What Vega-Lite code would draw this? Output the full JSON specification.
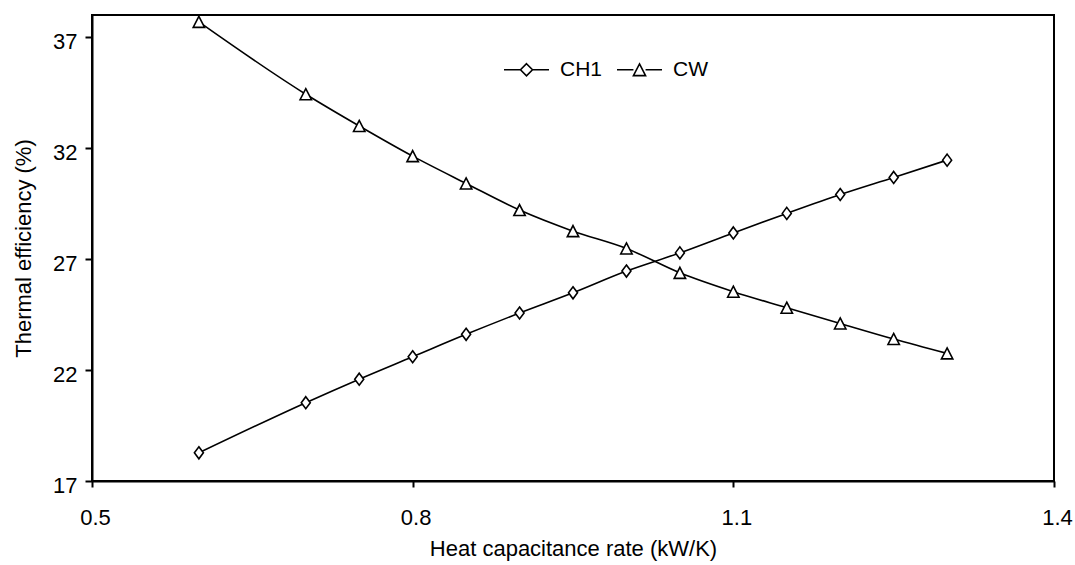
{
  "$schema": "https://vega.github.io/schema/vega-lite/v6.json",
  "autosize": "none",
  "width": 962,
  "height": 466,
  "padding": {"left": 92, "top": 15, "right": 21, "bottom": 84},
  "background": "white",
  "config": {
    "font": "Liberation Sans",
    "view": {"stroke": "black", "strokeWidth": 2},
    "axis": {
      "grid": false,
      "domainColor": "black",
      "domainWidth": 2,
      "tickColor": "black",
      "tickWidth": 2,
      "labelColor": "black",
      "titleColor": "black",
      "labelFont": "Liberation Sans",
      "titleFont": "Liberation Sans",
      "labelFontSize": 22,
      "titleFontSize": 22,
      "titleFontWeight": "normal",
      "labelFlush": false
    }
  },
  "data": {
    "values": [
      {"x": 0.6, "series": "CH1", "eff": 18.27},
      {"x": 0.7, "series": "CH1", "eff": 20.53},
      {"x": 0.75, "series": "CH1", "eff": 21.59},
      {"x": 0.8, "series": "CH1", "eff": 22.6},
      {"x": 0.85, "series": "CH1", "eff": 23.61},
      {"x": 0.9, "series": "CH1", "eff": 24.57},
      {"x": 0.95, "series": "CH1", "eff": 25.48},
      {"x": 1.0, "series": "CH1", "eff": 26.46},
      {"x": 1.05, "series": "CH1", "eff": 27.28},
      {"x": 1.1, "series": "CH1", "eff": 28.18},
      {"x": 1.15, "series": "CH1", "eff": 29.06},
      {"x": 1.2, "series": "CH1", "eff": 29.91},
      {"x": 1.25, "series": "CH1", "eff": 30.68},
      {"x": 1.3, "series": "CH1", "eff": 31.46},
      {"x": 0.6, "series": "CW", "eff": 37.69},
      {"x": 0.7, "series": "CW", "eff": 34.43},
      {"x": 0.75, "series": "CW", "eff": 33.0},
      {"x": 0.8, "series": "CW", "eff": 31.64},
      {"x": 0.85, "series": "CW", "eff": 30.41},
      {"x": 0.9, "series": "CW", "eff": 29.21},
      {"x": 0.95, "series": "CW", "eff": 28.26},
      {"x": 1.0, "series": "CW", "eff": 27.48},
      {"x": 1.05, "series": "CW", "eff": 26.38},
      {"x": 1.1, "series": "CW", "eff": 25.53},
      {"x": 1.15, "series": "CW", "eff": 24.81},
      {"x": 1.2, "series": "CW", "eff": 24.1},
      {"x": 1.25, "series": "CW", "eff": 23.4},
      {"x": 1.3, "series": "CW", "eff": 22.75}
    ]
  },
  "encoding": {
    "x": {
      "field": "x",
      "type": "quantitative",
      "scale": {"domain": [0.5, 1.4], "nice": false, "zero": false},
      "axis": {
        "title": "Heat capacitance rate (kW/K)",
        "values": [0.5, 0.8, 1.1, 1.4],
        "format": ".1f",
        "tickSize": 6,
        "labelPadding": 20,
        "labelOffset": 3,
        "titlePadding": 10
      }
    },
    "y": {
      "field": "eff",
      "type": "quantitative",
      "scale": {"domain": [17, 38], "nice": false, "zero": false},
      "axis": {
        "title": "Thermal efficiency (%)",
        "values": [17, 22, 27, 32, 37],
        "tickSize": 7,
        "labelPadding": 8,
        "labelOffset": 4,
        "titlePadding": 17
      }
    }
  },
  "layer": [
    {
      "mark": {"type": "line", "interpolate": "monotone", "color": "black", "strokeWidth": 1.6},
      "encoding": {"detail": {"field": "series"}}
    },
    {
      "transform": [{"filter": "datum.series === 'CH1'"}],
      "mark": {"type": "point", "filled": true, "fill": "white", "stroke": "black", "strokeWidth": 1.6, "size": 144, "opacity": 1, "shape": "M0,-1L0.75,0L0,1L-0.75,0Z"}
    },
    {
      "transform": [{"filter": "datum.series === 'CW'"}],
      "mark": {"type": "point", "filled": true, "fill": "white", "stroke": "black", "strokeWidth": 1.6, "size": 144, "opacity": 1, "shape": "M0,-0.92L0.95,0.92L-0.95,0.92Z"}
    },
    {
      "transform": [{"filter": "false"}],
      "mark": {"type": "point", "filled": false, "color": "black", "strokeWidth": 1.6, "size": 2025, "opacity": 1},
      "encoding": {
        "shape": {
          "field": "series",
          "type": "nominal",
          "scale": {
            "domain": ["CH1", "CW"],
            "range": ["M-1,0L-0.267,0M0.267,0L1,0M0,-0.267L0.267,0L0,0.267L-0.267,0Z", "M-1,0L-0.27,0M0.27,0L1,0M0,-0.26L0.27,0.26L-0.27,0.26Z"]
          },
          "legend": {
            "title": null,
            "orient": "none",
            "legendX": 411,
            "legendY": 31,
            "direction": "horizontal",
            "columns": 2,
            "columnPadding": 10,
            "padding": 0,
            "labelFont": "Liberation Sans",
            "labelFontSize": 21,
            "labelColor": "black",
            "labelOffset": 10,
            "symbolSize": 2025,
            "symbolStrokeWidth": 1.6,
            "symbolStrokeColor": "black"
          }
        }
      }
    }
  ]
}
